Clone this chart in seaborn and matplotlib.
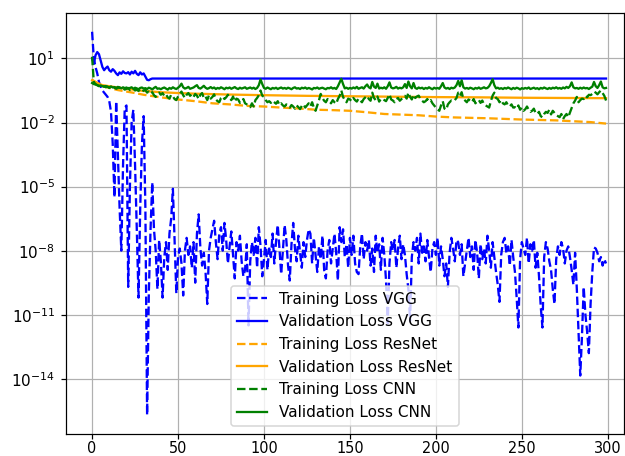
import numpy as np
import matplotlib
matplotlib.use("Agg")
import matplotlib.pyplot as plt
import seaborn as sns

# Loss curves as log10(loss)
epochs = list(range(300))

train_vgg_log = [
    2.25, 1.0, 0.6, 0.3, -0.1, -0.3, -0.5, -0.6, -0.7, -0.8,
    -1.0, -1.5, -3.0, -5.5, -1.0, -3.5, -6.0, -8.0, -4.0, -1.3,
    -1.2, -9.7, -5.0, -2.0, -1.4, -4.0, -7.0, -10.2, -6.0, -3.0,
    -1.7, -6.0, -15.7, -10.0, -7.0, -4.8, -7.0, -8.0, -9.8, -7.5,
    -8.5, -10.2, -8.3, -7.6, -8.9, -7.2, -6.5, -5.1, -7.5, -10.0,
    -8.3, -7.9, -8.6, -10.1, -8.0, -7.4, -8.2, -7.8, -8.8, -7.6,
    -9.5, -7.2, -6.3, -7.9, -8.7, -8.1, -9.0, -10.5, -8.0, -7.4,
    -7.0, -6.6, -7.6, -8.4, -7.2, -6.9, -8.0, -6.7, -7.5, -8.6,
    -7.8, -7.1, -8.2, -9.3, -7.6, -8.0, -7.3, -8.5, -9.2, -8.9,
    -7.7, -11.5, -8.5, -7.6, -8.2, -7.4, -8.8, -6.9, -7.8, -9.2,
    -8.4, -7.5, -8.9, -7.9, -8.3, -7.2, -8.6, -7.6, -6.8, -7.9,
    -9.1, -8.0, -6.8, -7.5, -8.7, -9.4, -7.7, -6.7, -7.9, -8.5,
    -7.3, -8.1, -8.8, -7.6, -8.3, -7.5, -7.0, -7.2, -8.6, -7.4,
    -8.2, -9.0, -7.8, -8.4, -7.3, -8.9, -9.3, -8.0, -7.5, -8.6,
    -7.9, -7.2, -8.1, -9.4, -6.9, -7.6, -7.0, -8.3, -7.7, -8.8,
    -7.4, -8.2, -7.3, -8.6, -9.0, -9.1, -7.8, -7.2, -8.4, -7.6,
    -8.0, -7.5, -8.7, -7.9, -9.0, -7.3, -8.1, -7.7, -8.9, -7.4,
    -8.2, -9.4, -11.4, -8.6, -7.6, -8.0, -7.5, -8.8, -7.9, -7.3,
    -8.4, -7.7, -8.2, -9.1, -9.8, -11.3, -8.3, -7.6, -8.0, -7.4,
    -8.6, -7.2, -8.1, -7.8, -8.5, -7.5, -8.3, -9.0, -7.9, -7.6,
    -8.2, -7.4, -8.7, -7.8, -8.4, -9.2, -8.6, -9.7, -8.1, -7.4,
    -7.9, -8.5, -7.5, -7.6, -8.2, -7.7, -9.2, -8.6, -8.0, -7.4,
    -8.3, -7.8, -8.9, -7.5, -8.1, -9.3, -7.7, -8.4, -7.9, -8.6,
    -7.3, -8.0, -8.8, -7.6, -8.3, -9.0, -9.6, -10.4, -8.2, -7.6,
    -7.4, -8.1, -7.8, -8.7, -7.5, -8.3, -9.0, -10.2, -11.6, -8.4,
    -7.6, -7.9, -8.2, -7.4, -8.6, -7.7, -8.0, -7.5, -8.8, -8.1,
    -9.2, -10.6, -11.6, -8.3, -7.6, -7.9, -8.5, -8.9, -9.8, -10.5,
    -8.4, -7.8, -8.2, -7.6, -7.9, -8.6, -8.0, -7.8, -8.3, -8.9,
    -9.6, -8.1, -9.8, -11.8, -13.85, -12.0, -9.7, -11.0, -11.8, -12.8,
    -10.5, -9.0, -7.85, -7.9, -8.1, -8.5, -8.3, -8.7, -8.4, -8.6,
]

val_vgg_epochs = list(range(36)) + [299]
val_vgg_log = [
    1.0, 0.75, 1.15, 1.3, 1.2, 0.9, 0.6, 0.45, 0.55, 0.62,
    0.45, 0.38, 0.5, 0.42, 0.3, 0.22, 0.35, 0.28, 0.4, 0.32,
    0.3, 0.36, 0.25, 0.38, 0.3, 0.42, 0.28, 0.22, 0.35, 0.25,
    0.3, 0.15, 0.0, -0.02, 0.03, 0.06, 0.06,
]

train_resnet_epochs = [0, 2, 5, 10, 15, 20, 25, 30, 35, 40, 50, 60, 70, 80, 90,
                       100, 110, 120, 130, 140, 150, 160, 170, 180, 190, 200,
                       210, 220, 230, 240, 250, 260, 270, 280, 290, 299]
train_resnet_log = [0.0, -0.1, -0.25, -0.38, -0.48, -0.55, -0.62, -0.7, -0.76,
                    -0.82, -0.92, -1.0, -1.1, -1.15, -1.22, -1.25, -1.3, -1.34,
                    -1.4, -1.42, -1.45, -1.52, -1.6, -1.63, -1.66, -1.72, -1.76,
                    -1.78, -1.8, -1.83, -1.86, -1.88, -1.9, -1.94, -1.98, -2.05]

val_resnet_epochs = [0, 3, 6, 10, 15, 20, 30, 40, 50, 60, 80, 100, 125, 150,
                     175, 200, 225, 250, 275, 299]
val_resnet_log = [-0.02, -0.15, -0.25, -0.3, -0.36, -0.42, -0.52, -0.58, -0.62,
                  -0.65, -0.69, -0.72, -0.75, -0.77, -0.79, -0.81, -0.82, -0.84,
                  -0.85, -0.86]

train_cnn_log = [
    1.08, -0.1, -0.2, -0.25, -0.3, -0.28, -0.33, -0.3, -0.35, -0.32,
    -0.38, -0.34, -0.4, -0.36, -0.42, -0.38, -0.35, -0.44, -0.4, -0.46,
    -0.42, -0.38, -0.48, -0.44, -0.4, -0.5, -0.46, -0.52, -0.45, -0.55,
    -0.5, -0.48, -0.6, -0.55, -0.65, -0.58, -0.72, -0.8, -0.66, -0.6,
    -0.7, -0.62, -0.75, -0.68, -0.82, -0.88, -0.7, -0.78, -0.9, -0.95,
    -0.78, -0.65, -0.55, -0.72, -0.85, -0.7, -0.62, -0.75, -0.68, -0.8,
    -0.66, -0.74, -0.9, -0.7, -0.62, -0.85, -0.78, -0.95, -0.72, -0.88,
    -0.8, -0.68, -0.92, -1.0, -1.05, -0.85, -0.78, -0.9, -0.82, -0.7,
    -0.85, -0.95, -0.78, -1.02, -0.88, -0.92, -1.08, -1.05, -0.9, -1.1,
    -1.15, -1.2, -1.28, -1.1, -1.25, -0.95, -0.85, -0.72, -0.5, -0.74,
    -0.8, -0.95, -1.05, -1.0, -1.08, -0.98, -1.05, -1.12, -1.0, -1.18,
    -1.1, -1.2, -1.25, -1.15, -1.22, -1.3, -1.18, -1.25, -1.35, -1.2,
    -1.28, -1.37, -1.22, -1.15, -1.3, -1.2, -1.1, -1.25, -1.05, -1.3,
    -1.45, -1.2, -0.95, -0.66, -0.85, -0.98, -1.05, -0.9, -1.0, -1.1,
    -0.95, -1.05, -1.12, -0.9, -0.75, -0.5, -0.8, -0.95, -1.05, -0.88,
    -0.92, -1.0, -0.85, -0.95, -1.02, -0.88, -0.97, -1.05, -0.9, -0.82,
    -0.75, -0.9, -0.98, -0.6, -0.85, -0.95, -0.78, -1.02, -0.9, -0.88,
    -0.95, -1.0, -0.85, -0.68, -0.92, -0.97, -1.05, -0.9, -0.85, -0.98,
    -0.9, -0.82, -0.75, -0.88, -0.6, -0.8, -0.92, -0.7, -0.85, -0.78,
    -0.74, -0.9, -0.98, -1.05, -1.0, -0.9, -1.02, -0.95, -1.1, -1.2,
    -1.3, -1.38, -1.45, -1.2, -1.0, -1.35, -1.4, -1.15, -1.05, -0.97,
    -1.0, -0.95, -0.85, -0.6, -0.75, -0.58, -0.9, -0.97, -1.05, -0.92,
    -0.98, -1.05, -0.9, -1.1, -1.0, -0.95, -1.08, -0.97, -1.15, -1.2,
    -1.25, -1.3, -1.0, -0.74, -0.6, -0.85, -0.9, -1.05, -0.95, -1.1,
    -1.15, -1.05, -1.2, -1.25, -1.15, -1.3, -1.28, -1.35, -1.2, -1.4,
    -1.3, -1.45, -1.38, -1.25, -1.4, -1.5, -1.45, -1.35, -1.55, -1.6,
    -1.5, -1.7, -1.76, -1.6, -1.5, -1.55, -1.4, -1.62, -1.45, -1.55,
    -1.65, -1.7, -1.75, -1.6, -1.84, -1.7, -1.6, -1.75, -1.53, -1.3,
    -1.1, -0.97, -0.8, -1.05, -0.95, -0.88, -0.9, -0.75, -0.82, -0.7,
    -0.72, -0.66, -0.55, -0.6, -0.68, -0.58, -0.5, -0.62, -0.75, -0.97,
]

val_cnn_log = [
    -0.15, -0.2, -0.22, -0.25, -0.28, -0.26, -0.3, -0.32, -0.29, -0.33,
    -0.35, -0.31, -0.36, -0.34, -0.38, -0.33, -0.37, -0.4, -0.35, -0.39,
    -0.36, -0.41, -0.38, -0.35, -0.42, -0.37, -0.4, -0.44, -0.38, -0.36,
    -0.41, -0.39, -0.43, -0.37, -0.4, -0.45, -0.38, -0.33, -0.42, -0.4,
    -0.44, -0.39, -0.36, -0.41, -0.46, -0.38, -0.42, -0.35, -0.4, -0.43,
    -0.37, -0.3, -0.18, -0.35, -0.41, -0.38, -0.33, -0.42, -0.39, -0.36,
    -0.3, -0.25, -0.38, -0.41, -0.35, -0.28, -0.37, -0.42, -0.39, -0.34,
    -0.4, -0.36, -0.43, -0.38, -0.41, -0.35, -0.39, -0.44, -0.37, -0.4,
    -0.36, -0.42, -0.38, -0.34, -0.4, -0.43, -0.37, -0.41, -0.38, -0.35,
    -0.42, -0.39, -0.36, -0.41, -0.37, -0.43, -0.38, -0.25, 0.02, -0.2,
    -0.38, -0.42, -0.36, -0.4, -0.44, -0.38, -0.41, -0.37, -0.43, -0.39,
    -0.36, -0.41, -0.38, -0.42, -0.37, -0.4, -0.44, -0.38, -0.35, -0.41,
    -0.39, -0.43, -0.37, -0.4, -0.36, -0.42, -0.38, -0.41, -0.45, -0.38,
    -0.4, -0.36, -0.42, -0.39, -0.37, -0.41, -0.44, -0.38, -0.4, -0.35,
    -0.41, -0.38, -0.43, -0.3, -0.12, 0.05, -0.2, -0.4, -0.37, -0.42,
    -0.38, -0.41, -0.36, -0.4, -0.33, -0.42, -0.38, -0.35, -0.41, -0.3,
    -0.22, -0.35, -0.4, -0.1, -0.32, -0.38, -0.18, -0.41, -0.37, -0.4,
    -0.35, -0.42, -0.3, -0.12, -0.36, -0.4, -0.38, -0.33, -0.41, -0.37,
    -0.4, -0.35, -0.2, -0.38, -0.08, -0.3, -0.4, -0.15, -0.38, -0.42,
    -0.36, -0.4, -0.37, -0.43, -0.38, -0.41, -0.35, -0.4, -0.44, -0.37,
    -0.41, -0.38, -0.42, -0.3, -0.15, -0.36, -0.41, -0.38, -0.43, -0.37,
    -0.4, -0.36, -0.25, -0.05, -0.3, -0.02, -0.35, -0.41, -0.38, -0.42,
    -0.37, -0.4, -0.44, -0.38, -0.41, -0.36, -0.42, -0.39, -0.35, -0.4,
    -0.38, -0.3, -0.15, 0.03, -0.25, -0.4, -0.37, -0.42, -0.39, -0.43,
    -0.38, -0.41, -0.36, -0.4, -0.44, -0.38, -0.42, -0.37, -0.4, -0.45,
    -0.39, -0.42, -0.38, -0.41, -0.36, -0.43, -0.4, -0.37, -0.42, -0.39,
    -0.44, -0.38, -0.41, -0.36, -0.4, -0.43, -0.38, -0.42, -0.37, -0.4,
    -0.35, -0.41, -0.38, -0.42, -0.36, -0.4, -0.33, -0.38, -0.3, -0.12,
    -0.35, -0.4, -0.38, -0.42, -0.37, -0.41, -0.36, -0.4, -0.38, -0.43,
    -0.37, -0.32, -0.1, -0.3, -0.38, -0.25, -0.08, -0.35, -0.4, -0.38,
]

series = [
    ("Training Loss VGG", epochs, train_vgg_log, "blue", "--"),
    ("Validation Loss VGG", val_vgg_epochs, val_vgg_log, "blue", "-"),
    ("Training Loss ResNet", train_resnet_epochs, train_resnet_log, "orange", "--"),
    ("Validation Loss ResNet", val_resnet_epochs, val_resnet_log, "orange", "-"),
    ("Training Loss CNN", epochs, train_cnn_log, "green", "--"),
    ("Validation Loss CNN", epochs, val_cnn_log, "green", "-"),
]

dpi = 110
fig, ax = plt.subplots(figsize=(625 / dpi, 456 / dpi), dpi=dpi)
fig.subplots_adjust(left=0.105, right=0.998, bottom=0.049, top=0.972)

for label, x, ylog, color, ls in series:
    sns.lineplot(x=x, y=np.power(10.0, np.array(ylog)), ax=ax, color=color,
                 linestyle=ls, linewidth=1.5, label=label)

ax.set_yscale("log")
ax.set_xlim(-15.4, 309.3)
ax.set_ylim(10 ** -16.57, 10 ** 3.14)
ax.set_yticks([1e1, 1e-2, 1e-5, 1e-8, 1e-11, 1e-14])
ax.yaxis.set_minor_locator(matplotlib.ticker.NullLocator())
ax.set_xticks([0, 50, 100, 150, 200, 250, 300])
ax.tick_params(axis="x", pad=1.5, labelsize=9.5)
ax.set_xlabel("")
ax.set_ylabel("")
ax.grid(True, color="#b0b0b0", linewidth=0.8)
ax.set_axisbelow(True)
ax.legend(loc="lower center")

plt.savefig("out.png", dpi=dpi)
